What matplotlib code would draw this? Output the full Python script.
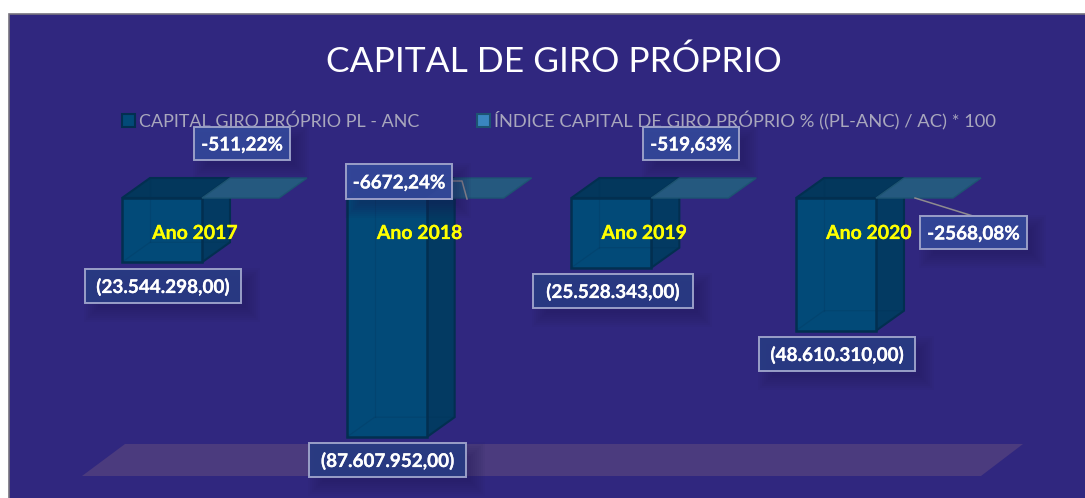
import matplotlib
matplotlib.use('Agg')
import matplotlib.pyplot as plt
from matplotlib.colors import to_rgba
from matplotlib.patches import Polygon, Rectangle
import matplotlib.patheffects as pe

plt.rcParams['font.family'] = ['Lato', 'DejaVu Sans']

categories = ['Ano 2017', 'Ano 2018', 'Ano 2019', 'Ano 2020']
capital_giro = [-23544298.00, -87607952.00, -25528343.00, -48610310.00]
indice_capital = [-511.22, -6672.24, -519.63, -2568.08]
capital_labels = ['(23.544.298,00)', '(87.607.952,00)', '(25.528.343,00)', '(48.610.310,00)']
indice_labels = ['-511,22%', '-6672,24%', '-519,63%', '-2568,08%']
series_names = ['CAPITAL GIRO PRÓPRIO PL - ANC', 'ÍNDICE CAPITAL DE GIRO PRÓPRIO % ((PL-ANC) / AC) * 100']

W, H = 1085, 498
bg = '#30277f'
front_col = '#024a78'
side_col = '#033a62'
top_col = '#03375c'
edge_col = '#022f50'
index_col = '#25597f'

# scale of the chart, pixels per category and per unit of value
px_cat = 224.67
px_val = 2.73e-6
x0_px, y0_px = 162, 198

fig = plt.figure(figsize=(W / 100, H / 100), dpi=100, facecolor='white')
ax = fig.add_axes([0, 0, 1, 1])
ax.set_xlim(-x0_px / px_cat, (W - x0_px) / px_cat)
ax.set_ylim(-(H - y0_px) / px_val, y0_px / px_val)
ax.set_axis_off()

# things placed in picture pixels (y going down)
def P(x, y):
    return (x / W, 1 - y / H)

fig.add_artist(Rectangle(P(9, H + 5), (W + 5) / W, (H + 5 - 14) / H, transform=fig.transFigure,
                         facecolor=bg, edgecolor='#77737f', linewidth=1.2, zorder=-5))
ax.patch.set_alpha(0)

# floor
fig.add_artist(Polygon([P(82, 476), P(981, 476), P(1023, 444), P(125, 444)], closed=True,
                       transform=fig.transFigure, facecolor='#4b3b7e', edgecolor='none', zorder=-4))

bar_w = 80 / px_cat
lid_w = 77 / px_cat
dx = 28 / px_cat
dy = 20 / px_val

for i, v in enumerate(capital_giro):
    l = i - bar_w / 2
    r = i + bar_w / 2
    # side
    ax.add_patch(Polygon([(r, 0), (r + dx, dy), (r + dx, v + dy), (r, v)],
                         facecolor=side_col, edgecolor=edge_col, linewidth=1.5, zorder=2))
    # top
    ax.add_patch(Polygon([(l, 0), (l + dx, dy), (r + dx, dy), (r, 0)],
                         facecolor=top_col, edgecolor=edge_col, linewidth=1.5, zorder=2))

bars = ax.bar(range(len(capital_giro)), capital_giro, width=bar_w, color=front_col,
              edgecolor=edge_col, linewidth=1.8, zorder=3)

# faint back edges of the box, seen through the front
for i, v in enumerate(capital_giro):
    l = i - bar_w / 2
    r = i + bar_w / 2
    ax.plot([l + dx, l + dx], [dy, v + dy], color=edge_col, linewidth=0.9, alpha=0.2, zorder=4)
    ax.plot([l, l + dx, r + dx], [v, v + dy, v + dy], color=edge_col, linewidth=0.9, alpha=0.2, zorder=4)

# the index series is so small next to the values that only its flat lid shows
for i, v in enumerate(indice_capital):
    l = i + bar_w / 2
    r = l + lid_w
    ax.add_patch(Polygon([(l, v), (r, v), (r + dx, v + dy), (l + dx, v + dy)],
                         facecolor=index_col, edgecolor='#1d5472', linewidth=1, zorder=5))

# leader lines
fig.add_artist(plt.Line2D([452 / W, 462 / W, 467 / W], [1 - 181 / H, 1 - 181 / H, 1 - 199 / H],
                          color='#8f8c8f', linewidth=1.1, zorder=6))
fig.add_artist(plt.Line2D([915 / W, 973 / W], [1 - 198 / H, 1 - 216 / H],
                          color='#8f8c8f', linewidth=1.1, zorder=6))

def bold_text(x, y, s, color, size, z):
    t = fig.text(x / W, 1 - y / H, s, color=color, fontsize=size, fontweight='bold',
                 ha='center', va='baseline', zorder=z)
    t.set_path_effects([pe.withStroke(linewidth=0.15, foreground=color)])
    return t

def label_box(x1, y1, x2, y2, text, face):
    # soft shadow
    for k in range(8):
        g = 10 - k * 2.0
        fig.add_artist(Rectangle(P(x1 + 9 - g, y2 + 9 + g), (x2 - x1 + 2 * g) / W, (y2 - y1 + 2 * g) / H,
                                 transform=fig.transFigure, facecolor='#1d1650', edgecolor='none',
                                 alpha=0.05, zorder=7))
    fig.add_artist(Rectangle(P(x1, y2), (x2 - x1) / W, (y2 - y1) / H, transform=fig.transFigure,
                             facecolor=to_rgba(face, 0.92), edgecolor='#9a9fc8', linewidth=1.4, zorder=8))
    bold_text((x1 + x2) / 2, (y1 + y2) / 2 + 7, text, 'white', 13.6, 9)

indice_boxes = [(194, 127, 290, 160), (346, 164, 452, 199), (643, 127, 739, 160), (920, 216, 1027, 249)]
capital_boxes = [(85, 269, 241, 303), (309, 443, 466, 477), (533, 274, 693, 308), (759, 337, 915, 371)]
for b, t in zip(indice_boxes, indice_labels):
    label_box(*b, t, '#33489a')
for b, t in zip(capital_boxes, capital_labels):
    label_box(*b, t, '#283b83')

# category names sit over the bars
for i, c in enumerate(categories):
    bold_text(x0_px + px_cat * i + 33, 239, c, '#ffff00', 14.0, 6)

# title and legend
fig.text(554 / W, 1 - 72 / H, 'CAPITAL DE GIRO PRÓPRIO', color='white', fontsize=25.5, ha='center', va='baseline')
fig.add_artist(Rectangle(P(122, 127), 13 / W, 13 / H, transform=fig.transFigure, facecolor=front_col,
                         edgecolor=edge_col, linewidth=1.5, zorder=1))
fig.add_artist(Rectangle(P(477, 127), 13 / W, 13 / H, transform=fig.transFigure, facecolor='#3a86c0',
                         edgecolor='#1d5472', linewidth=1.5, zorder=1))
fig.text(139 / W, 1 - 127 / H, series_names[0], color='#a9a7bd', fontsize=12.9, ha='left', va='baseline', zorder=1)
fig.text(494 / W, 1 - 127 / H, series_names[1], color='#a9a7bd', fontsize=13.28, ha='left', va='baseline', zorder=1)

fig.savefig('out.png', dpi=100)
